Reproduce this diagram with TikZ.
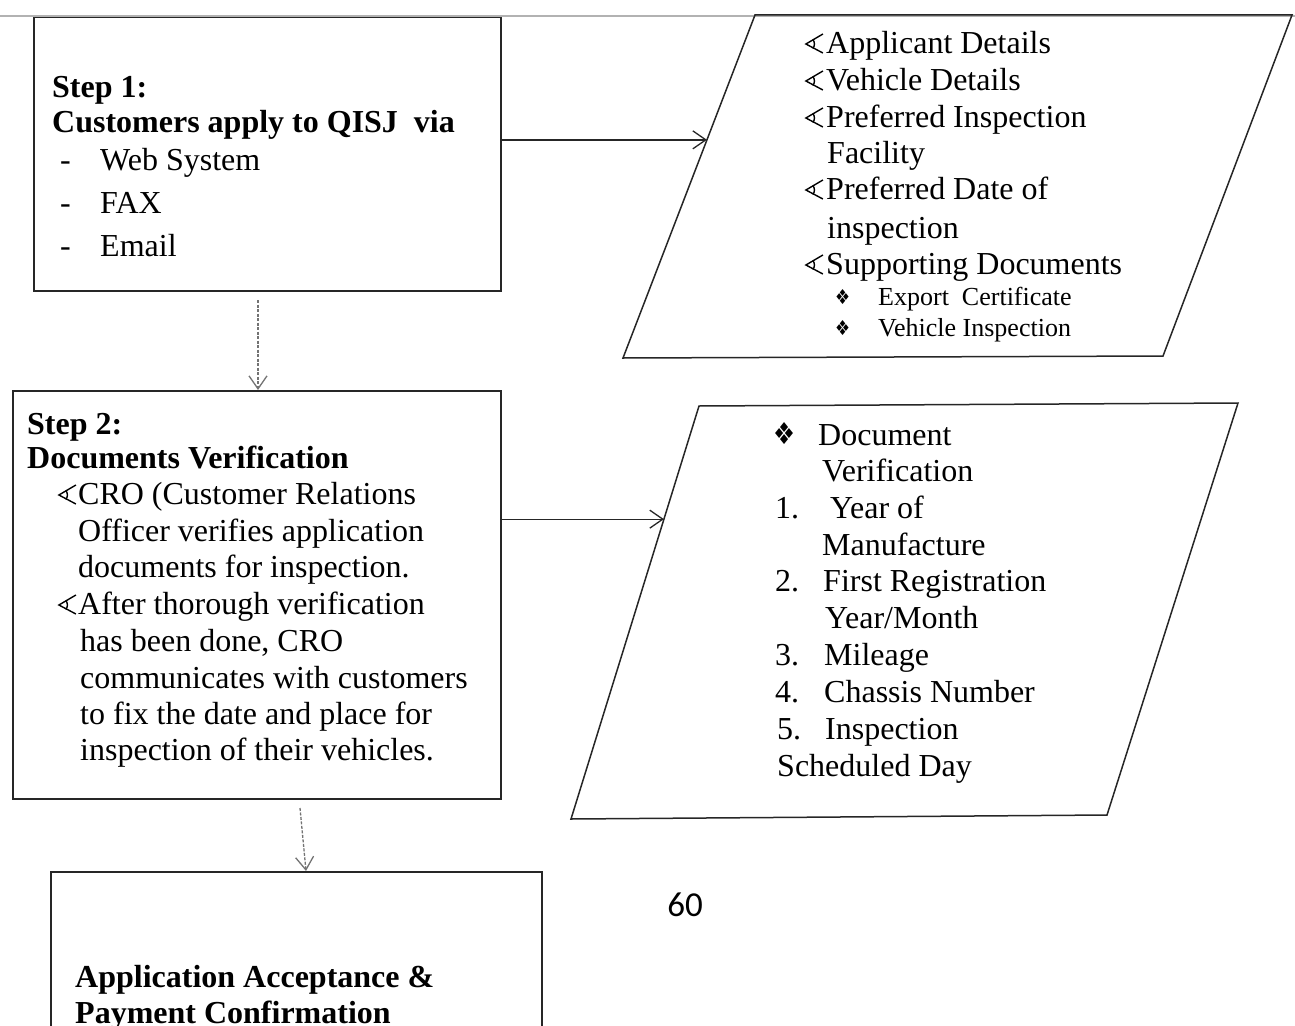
\documentclass[tikz,border=0pt]{standalone}
\usepackage{fontspec}
\usepackage{graphicx}
\setmainfont{Liberation Serif}
\newfontfamily\symfont{DejaVu Sans}
\newfontfamily\pagefont{Carlito}
\usetikzlibrary{arrows.meta,calc}
\tikzset{
  frame/.style={draw=black!85, line width=1.5pt, inner sep=0pt, anchor=north west},
  txt/.style={anchor=base west, inner sep=0pt, font=\fontsize{32}{37}\selectfont},
  boldtxt/.style={anchor=base west, inner sep=0pt, font=\fontsize{32}{37}\selectfont\bfseries},
  smalltxt/.style={anchor=base west, inner sep=0pt, font=\fontsize{26}{30}\selectfont},
  link/.style={draw=black!85, line width=1.3pt, -{Straight Barb[length=13pt,width=18pt,line width=1.3pt]}},
  downlink/.style={link, draw=black!55, dash pattern=on 3pt off 1.5pt}
}
\newcommand{\tri}{\makebox[21pt][l]{\tikz[baseline=0pt, x=1pt, y=1pt, line width=1.4pt, line join=miter]{\draw (18,19) -- (1,9) -- (18,0); \draw (8,13.5) to[bend left=35] (8,4.5);}}}
\newcommand{\dmd}{\makebox[45pt][l]{\raisebox{1pt}{\resizebox{22pt}{22pt}{\symfont ❖}}}}
\newcommand{\sdmd}{\makebox[43pt][l]{\raisebox{1pt}{\resizebox{15pt}{15pt}{\symfont ❖}}}}
\begin{document}
\begin{tikzpicture}[x=1pt,y=-1pt]
\useasboundingbox (0,0) rectangle (1295,1025);
\clip (0,0) rectangle (1295,1025);
\draw[black!30, line width=1.5pt] (0,16) -- (1295,16);
\node[frame, minimum width=467pt, minimum height=273pt] (box1) at (33,17) {};
\node[frame, minimum width=488pt, minimum height=408pt] (box2) at (12,390) {};
\node[frame, minimum width=491pt, minimum height=300pt] (box3) at (50,871) {};
\coordinate (p1a) at (755,15);
\coordinate (p1b) at (1292,15);
\coordinate (p1c) at (1163,356);
\coordinate (p1d) at (623,358);
\draw[black!85, line width=1.5pt] (p1a) -- (p1b) -- (p1c) -- (p1d) -- cycle;
\coordinate (p2a) at (699,406);
\coordinate (p2b) at (1238,403);
\coordinate (p2c) at (1107,815);
\coordinate (p2d) at (571,819);
\draw[black!85, line width=1.5pt] (p2a) -- (p2b) -- (p2c) -- (p2d) -- cycle;
\coordinate (p1in) at ($(p1d)!0.636!(p1a)$);
\coordinate (p2in) at ($(p2d)!0.726!(p2a)$);
\draw[link] (box1.east |- p1in) -- (p1in);
\draw[link] (box2.east |- p2in) -- (p2in);
\coordinate (d1) at (258,300);
\draw[downlink] (d1) -- (d1 |- box2.north);
\coordinate (d2) at (300,808);
\draw[downlink] (d2) -- ([xshift=6pt]d2 |- box3.north);
% step 1
\node[boldtxt] (s1) at (52,97) {Step 1:};
\node[boldtxt] (s1t) at (52,132) {Customers apply to QISJ\ \ via};
\foreach \w [count=\i] in {Web System, FAX, Email} {
  \node[txt] (dash\i) at (60,{127+43*\i}) {-};
  \node[txt] (way\i) at (100,{127+43*\i}) {\w};
}
% application details
\node[txt] (a1) at (805,53) {\tri Applicant Details};
\node[txt] (a2) at (805,90) {\tri Vehicle Details};
\node[txt] (a3) at (805,127) {\tri Preferred Inspection};
\node[txt] (a4) at (827,163) {Facility};
\node[txt] (a5) at (805,199) {\tri Preferred Date of};
\node[txt] (a6) at (827,238) {inspection};
\node[txt] (a7) at (805,274) {\tri Supporting Documents};
\node[smalltxt] (a8) at (835,305) {\sdmd Export\ \ Certificate};
\node[smalltxt] (a9) at (835,336) {\sdmd Vehicle Inspection};
% step 2
\node[boldtxt] (s2) at (27,434) {Step 2:};
\node[boldtxt] (s2t) at (27,468) {Documents Verification};
\node[txt] (b1) at (58,504) {\makebox[20pt][l]{\tri}CRO (Customer Relations};
\node[txt] (b2) at (78,541) {Officer verifies application};
\node[txt] (b3) at (78,577) {documents for inspection.};
\node[txt] (b4) at (58,614) {\makebox[20pt][l]{\tri}After thorough verification};
\node[txt] (b5) at (80,651) {has been done, CRO};
\node[txt] (b6) at (80,688) {communicates with customers};
\node[txt] (b7) at (80,724) {to fix the date and place for};
\node[txt] (b8) at (80,760) {inspection of their vehicles.};
% verification details
\node[txt] (v1) at (773,445) {\dmd Document};
\node[txt] (v2) at (822,481) {Verification};
\node[txt] (n1) at (775,518) {1.};
\node[txt] (v3) at (830,518) {Year of};
\node[txt] (v4) at (822,555) {Manufacture};
\node[txt] (n2) at (775,591) {2.};
\node[txt] (v5) at (823,591) {First Registration};
\node[txt] (v6) at (825,628) {Year/Month};
\node[txt] (n3) at (775,665) {3.};
\node[txt] (v7) at (824,665) {Mileage};
\node[txt] (n4) at (775,702) {4.};
\node[txt] (v8) at (824,702) {Chassis Number};
\node[txt] (n5) at (777,739) {5.};
\node[txt] (v9) at (825,739) {Inspection};
\node[txt] (v10) at (777,776) {Scheduled Day};
% step 3
\node[boldtxt] (s3) at (75,987) {Application Acceptance \&};
\node[boldtxt] (s3t) at (75,1023) {Payment Confirmation};
\node[font=\pagefont\fontsize{35}{40}\selectfont, inner sep=0pt] (pg) at (685,905) {60};
\end{tikzpicture}
\end{document}
